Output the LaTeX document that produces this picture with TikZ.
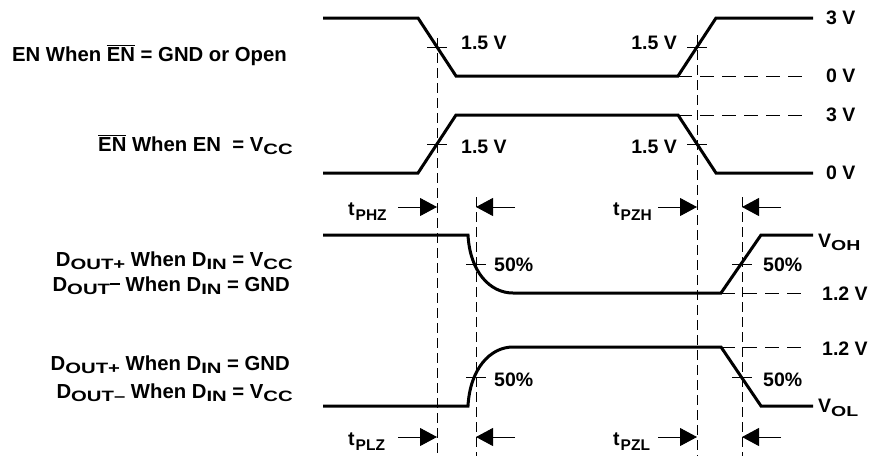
\documentclass[tikz,border=0pt]{standalone}
\usepackage{fontspec}
\usepackage{graphicx}
\setmainfont{Liberation Sans}
\usetikzlibrary{arrows.meta}
% squashed subscript (full width, reduced height)
\newcommand{\ssb}[1]{\raisebox{-3.5pt}{\scalebox{1}[0.74]{#1}}}
% small subscript for timing labels
\newcommand{\tsb}[1]{\kern1pt\raisebox{-5pt}{\fontsize{15.5}{15}\selectfont #1}}
\newcommand{\ovl}[1]{$\overline{\mbox{#1}}$}
\begin{document}
\begin{tikzpicture}[x=1pt,y=-1pt,
  wave/.style={line width=3pt, line join=miter},
  guide/.style={line width=0.9pt, dash pattern=on 10pt off 5pt},
  hguide/.style={line width=0.9pt, dash pattern=on 14pt off 8pt},
  tickmark/.style={line width=0.9pt},
  txt/.style={font=\fontsize{19.5}{22}\selectfont\bfseries, inner sep=0pt},
  ltxt/.style={font=\fontsize{20.3}{23}\selectfont\bfseries, inner sep=0pt, anchor=base east},
  tarrow/.style={line width=0.9pt, -{Triangle[length=17pt,width=18pt]}},
]
\useasboundingbox (0,0) rectangle (878,456);

% guide coordinates
\coordinate (d1t) at (437,38);  \coordinate (d1b) at (437,456);
\coordinate (d2t) at (697,35);  \coordinate (d2b) at (697,456);
\coordinate (d3t) at (476,197); \coordinate (d3b) at (476,456);
\coordinate (d4t) at (742,197); \coordinate (d4b) at (742,456);

\draw[guide] (d1t) -- (d1b);
\draw[guide] (d2t) -- (d2b);
\draw[guide] (d3t) -- (d3b);
\draw[guide] (d4t) -- (d4b);

% horizontal reference lines
\draw[hguide] (678,76) -- (808,76);
\draw[hguide] (678,115) -- (808,115);
\draw[hguide] (721,293) -- (808,293);
\draw[hguide] (721,347) -- (808,347);

% waveforms
\draw[wave] (323,18) -- (418,18) -- (456,76) -- (678,76) -- (716,18) -- (813,18);
\draw[wave] (323,173) -- (418,173) -- (456,115) -- (678,115) -- (716,173) -- (813,173);
\draw[wave] (323,235) -- (468,235) .. controls (470,272) and (490,293) .. (513,293) -- (721,293) -- (761,235) -- (813,235);
\draw[wave] (323,406) -- (468,406) .. controls (470,369) and (490,347) .. (513,347) -- (721,347) -- (761,406) -- (813,406);

% tick marks
\draw[tickmark] ([xshift=-10pt]d1t |- 0,47) -- ([xshift=10pt]d1t |- 0,47);
\draw[tickmark] ([xshift=-10pt]d2t |- 0,47) -- ([xshift=10pt]d2t |- 0,47);
\draw[tickmark] ([xshift=-10pt]d1t |- 0,144) -- ([xshift=10pt]d1t |- 0,144);
\draw[tickmark] ([xshift=-10pt]d2t |- 0,144) -- ([xshift=10pt]d2t |- 0,144);
\draw[tickmark] ([xshift=-10pt]d3t |- 0,264) -- ([xshift=10pt]d3t |- 0,264);
\draw[tickmark] ([xshift=-10pt]d4t |- 0,264) -- ([xshift=10pt]d4t |- 0,264);
\draw[tickmark] ([xshift=-10pt]d3t |- 0,377) -- ([xshift=10pt]d3t |- 0,377);
\draw[tickmark] ([xshift=-10pt]d4t |- 0,377) -- ([xshift=10pt]d4t |- 0,377);

% left labels
\node[ltxt] (l1) at (287,61) {EN When \ovl{EN} = GND or Open};
\node[ltxt] (l2) at (293,151) {\ovl{EN} When EN\ \ = V\ssb{CC}};
\node[ltxt] (l3) at (293,266) {D\ssb{OUT+} When D\ssb{IN} = V\ssb{CC}};
\node[ltxt] (l4) at (290,291) {D\ssb{OUT\rule[13pt]{10pt}{2pt}} When D\ssb{IN} = GND};
\node[ltxt] (l5) at (290,370) {D\ssb{OUT+} When D\ssb{IN} = GND};
\node[ltxt] (l6) at (293,398) {D\ssb{OUT–} When D\ssb{IN} = V\ssb{CC}};

% level labels
\node[txt, anchor=west] (v1) at (826,18) {3 V};
\node[txt, anchor=west] (v2) at (826,76) {0 V};
\node[txt, anchor=west] (v3) at (826,115) {3 V};
\node[txt, anchor=west] (v4) at (826,173) {0 V};
\node[txt, anchor=base west] (v5) at (818,247) {V\ssb{OH}};
\node[txt, anchor=base west] (v6) at (822,300) {1.2 V};
\node[txt, anchor=base west] (v7) at (822,355.5) {1.2 V};
\node[txt, anchor=base west] (v8) at (818,412.5) {V\ssb{OL}};

% threshold labels
\node[txt, anchor=west] (th1) at (461,43) {1.5 V};
\node[txt, anchor=east] (th2) at (677,43) {1.5 V};
\node[txt, anchor=west] (th3) at (461,147) {1.5 V};
\node[txt, anchor=east] (th4) at (677,147) {1.5 V};
\node[txt, anchor=west] (p1) at (494,265) {50\%};
\node[txt, anchor=west] (p2) at (763,265) {50\%};
\node[txt, anchor=west] (p3) at (494,380) {50\%};
\node[txt, anchor=west] (p4) at (763,380) {50\%};

% timing labels
\node[txt, anchor=base west] (tphz) at (348,215) {t\tsb{PHZ}};
\node[txt, anchor=base west] (tpzh) at (613,215) {t\tsb{PZH}};
\node[txt, anchor=base west] (tplz) at (348,445) {t\tsb{PLZ}};
\node[txt, anchor=base west] (tpzl) at (613,445) {t\tsb{PZL}};

% arrow coordinates
\coordinate (ua) at (398,207); \coordinate (ub) at (515,207);
\coordinate (uc) at (658,207); \coordinate (ud) at (781,207);
\coordinate (la) at (398,437); \coordinate (lb) at (515,437);
\coordinate (lc) at (658,437); \coordinate (ld) at (781,437);

\draw[tarrow] (ua) -- (ua -| d1t);
\draw[tarrow] (ub) -- (ub -| d3t);
\draw[tarrow] (uc) -- (uc -| d2t);
\draw[tarrow] (ud) -- (ud -| d4t);
\draw[tarrow] (la) -- (la -| d1t);
\draw[tarrow] (lb) -- (lb -| d3t);
\draw[tarrow] (lc) -- (lc -| d2t);
\draw[tarrow] (ld) -- (ld -| d4t);
\end{tikzpicture}
\end{document}
